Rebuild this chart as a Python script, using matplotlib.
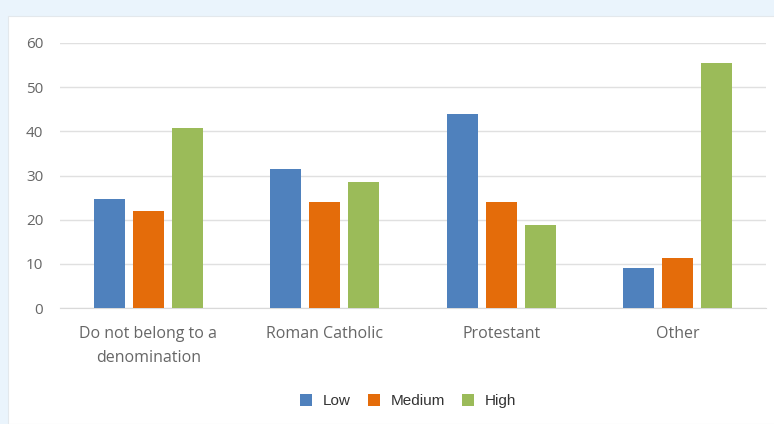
import numpy as np
import matplotlib
matplotlib.use("Agg")
import matplotlib.pyplot as plt
from matplotlib.patches import Rectangle

# categorias y valores por nivel
categorias = ["Do not belong to a\ndenomination", "Roman Catholic", "Protestant", "Other"]
series = ["Low", "Medium", "High"]
low = [24.7, 31.4, 43.9, 9.0]
medium = [21.9, 24.0, 24.1, 11.3]
high = [40.7, 28.6, 18.9, 55.5]
yticks = [0, 10, 20, 30, 40, 50, 60]

colores = ["#4F81BD", "#E46C0A", "#9BBB59"]
gris = "#666666"

plt.rcParams['font.family'] = ['Open Sans', 'DejaVu Sans']

fig = plt.figure(figsize=(7.74, 4.24), dpi=100)
fig.patch.set_facecolor("#EAF4FC")
# panel blanco del grafico (detras de los ejes)
fig.patches.append(Rectangle((8 / 774, 0), 1, 1 - 16 / 424, transform=fig.transFigure,
                             facecolor="white", edgecolor="#E3E8EC", linewidth=0.8, zorder=-10))

ax = fig.add_axes([60 / 774, 1 - 308 / 424, 706 / 774, 265 / 424])
ax.set_facecolor("none")

x = np.arange(len(categorias))
ancho = 0.176
paso = 0.221
for i, (nombre, vals) in enumerate(zip(series, [low, medium, high])):
    ax.bar(x + (i - 1) * paso, vals, width=ancho, color=colores[i], label=nombre, zorder=3)

ax.set_xlim(-0.5, len(categorias) - 0.5)
ax.set_ylim(0, 60)
ax.set_yticks(yticks)
ax.set_xticks(x)
ax.set_xticklabels(categorias, linespacing=1.65)
ax.tick_params(axis='both', length=0, colors=gris)
ax.tick_params(axis='x', pad=13, labelsize=11.5)
ax.tick_params(axis='y', pad=12, labelsize=11)
ax.grid(axis='y', color="#E0E0E0", linewidth=1, zorder=0)
for lado in ["top", "right", "left"]:
    ax.spines[lado].set_visible(False)
ax.spines["bottom"].set_color("#D9D9D9")

fig.legend(loc="center", bbox_to_anchor=(408 / 774, 1 - 401 / 424), ncol=3, frameon=False,
           prop={'family': ['Liberation Sans'], 'size': 11},
           handlelength=0.8, handleheight=0.8, columnspacing=1.1,
           handletextpad=0.7, labelcolor="#333333")

fig.savefig("out.png", dpi=100, facecolor=fig.get_facecolor())
